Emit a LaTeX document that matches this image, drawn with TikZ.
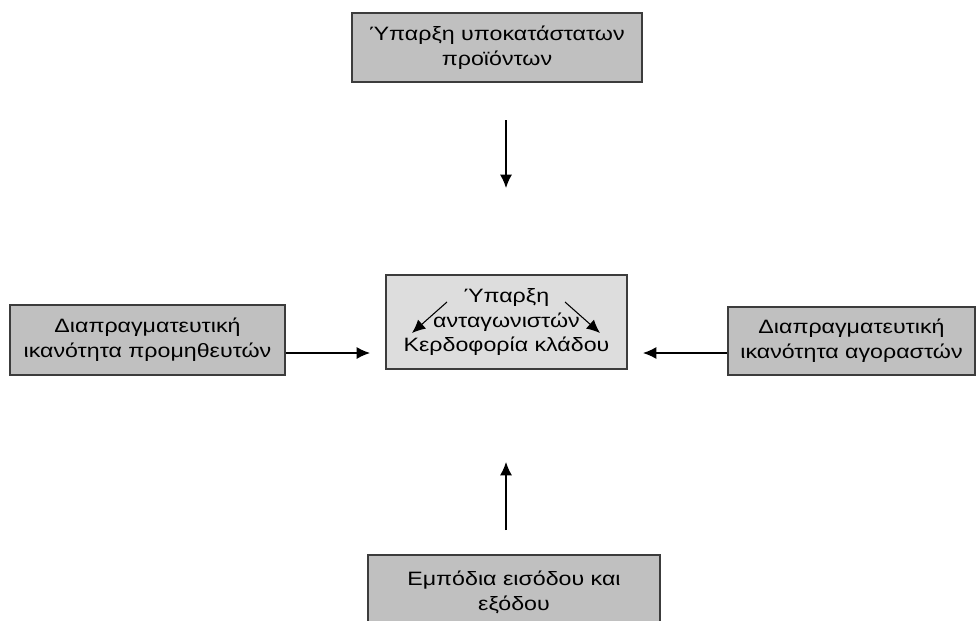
\documentclass[tikz,border=0pt]{standalone}
\usepackage{fontspec}
\setmainfont{Liberation Sans}[FakeStretch=1.2]
\usetikzlibrary{arrows.meta}
\definecolor{boxgray}{RGB}{192,192,192}
\definecolor{coregray}{RGB}{221,221,221}
\definecolor{edgegray}{RGB}{60,60,60}
\tikzset{%
    force/.style={%
        draw=edgegray, line width=1.4pt, fill=boxgray, align=center,
        inner sep=0pt, font=\fontsize{14.5}{18.5}\selectfont
    },
    flow/.style={-{Latex[length=10pt,width=9pt]}, line width=1pt}
}

\begin{document}
\begin{tikzpicture}[x=0.75pt,y=-0.75pt]
    \clip (0,0) rectangle (976,621);
    \useasboundingbox (0,0) rectangle (976,621);
    % the five boxes
    \node[force, minimum width=217.5pt, minimum height=51.75pt] (subst) at (497,47.5) {Ύπαρξη υποκατάστατων\\προϊόντων};
    \node[force, fill=coregray, minimum width=180.75pt, minimum height=70.5pt] (rival) at (506.5,322) {Ύπαρξη\\ανταγωνιστών\\Κερδοφορία κλάδου};
    \node[force, minimum width=206.25pt, minimum height=52.5pt] (suppl) at (147.5,340) {Διαπραγματευτική\\ικανότητα προμηθευτών};
    \node[force, minimum width=185.25pt, minimum height=51pt] (buyer) at (851.5,341) {Διαπραγματευτική\\ικανότητα αγοραστών};
    \node[force, minimum width=219pt, minimum height=56.25pt] (entry) at (514,592.5) {Εμπόδια εισόδου και\\εξόδου};
    % free ends of the arrows
    \coordinate (substA) at (506,120);
    \coordinate (substB) at (506,188);
    \coordinate (supplB) at (370,353);
    \coordinate (buyerB) at (643,353);
    \coordinate (entryA) at (506,530);
    \coordinate (entryB) at (506,462);
    \coordinate (innerL) at (447,302);
    \coordinate (innerLB) at (412,333);
    \coordinate (innerR) at (565,302);
    \coordinate (innerRB) at (600,333);
    % arrows
    \draw[flow] (substA) -- (substB);
    \draw[flow] (suppl.east |- supplB) -- (supplB);
    \draw[flow] (buyer.west |- buyerB) -- (buyerB);
    \draw[flow] (entryA) -- (entryB);
    \draw[flow, line width=0.8pt] (innerL) -- (innerLB);
    \draw[flow, line width=0.8pt] (innerR) -- (innerRB);
\end{tikzpicture}
\end{document}
